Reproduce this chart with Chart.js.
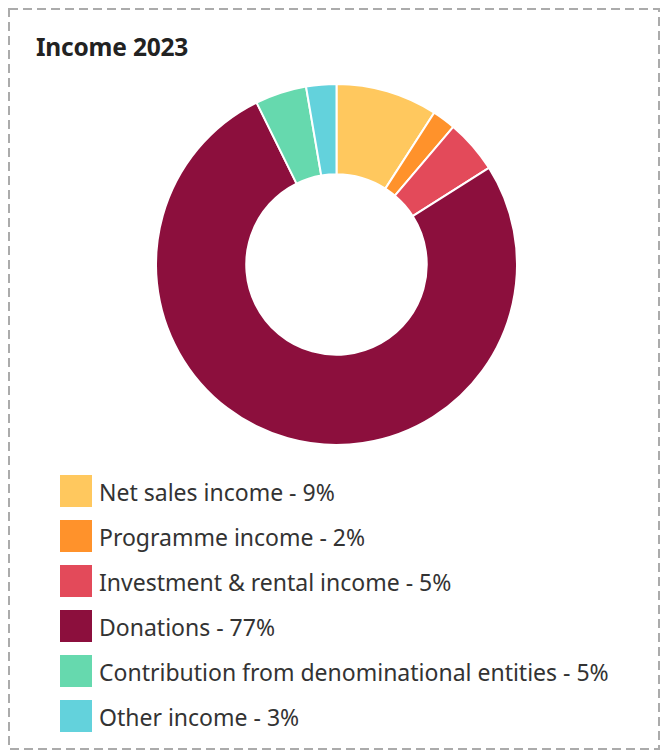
<!DOCTYPE html>
<html>
<head>
<meta charset="utf-8">
<script src="https://cdn.jsdelivr.net/npm/chart.js@4"></script>
<style>
  body { margin: 0; background: #fff; font-family: "Noto Sans", sans-serif; }
  .frame { position: absolute; left: 0; top: 0; width: 669px; height: 753px; }
  .title {
    position: absolute; left: 36px; top: 30px; margin: 0;
    font-size: 24.5px; font-weight: 700; color: #222; letter-spacing: -0.2px;
  }
  .chart-box { position: absolute; left: 155px; top: 83px; width: 363px; height: 363px; }
  .legend { position: absolute; left: 60px; top: 475px; margin: 0; padding: 0; list-style: none; }
  .legend li { display: flex; align-items: center; height: 32px; margin-bottom: 13px; }
  .legend .swatch { width: 32px; height: 32px; margin-right: 7px; flex: none; }
  .legend .txt { font-size: 23px; color: #333; white-space: nowrap; position: relative; top: 1px; }
</style>
</head>
<body>
<svg class="frame" width="669" height="753">
  <rect x="9" y="9" width="650" height="740" fill="none" stroke="#ababab" stroke-width="2" stroke-dasharray="9 5"></rect>
</svg>
<h2 class="title">Income 2023</h2>
<div class="chart-box"><canvas id="incomeChart"></canvas></div>
<ul class="legend" id="legend"></ul>
<script>
const categories = [
    'Net sales income',
    'Programme income',
    'Investment & rental income',
    'Donations',
    'Contribution from denominational entities',
    'Other income'
];
const shares = [9.1, 2.1, 4.8, 76.7, 4.6, 2.7];
const labelPercents = ['9%', '2%', '5%', '77%', '5%', '3%'];
const sliceColors = ['#ffc85e', '#ff922b', '#e34a5a', '#8c0f3d', '#66d9ae', '#63d2dc'];

document.addEventListener('DOMContentLoaded', function() {
    const ctx = document.getElementById('incomeChart').getContext('2d');
    new Chart(ctx, {
        type: 'doughnut',
        data: {
            labels: categories,
            datasets: [{
                data: shares,
                backgroundColor: sliceColors,
                borderColor: '#ffffff',
                borderWidth: 2
            }]
        },
        options: {
            responsive: true,
            maintainAspectRatio: false,
            animation: false,
            cutout: '50%',
            layout: { padding: 0 },
            plugins: {
                legend: { display: false },
                tooltip: { enabled: false }
            }
        }
    });

    // legend built from the same arrays
    const legend = document.getElementById('legend');
    categories.forEach((name, i) => {
        const li = document.createElement('li');
        const sw = document.createElement('span');
        sw.className = 'swatch';
        sw.style.background = sliceColors[i];
        const tx = document.createElement('span');
        tx.className = 'txt';
        tx.textContent = name + ' - ' + labelPercents[i];
        li.appendChild(sw);
        li.appendChild(tx);
        legend.appendChild(li);
    });
});
</script>
</body>
</html>
